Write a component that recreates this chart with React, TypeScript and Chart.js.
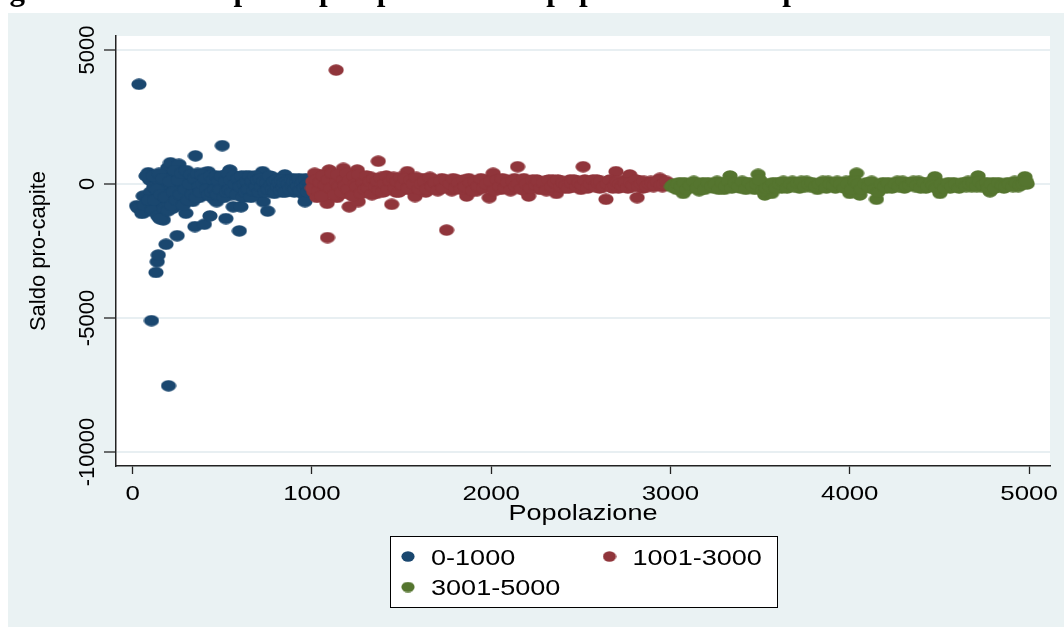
import React, { useEffect, useRef } from 'react';
import { Chart, registerables } from 'chart.js';

Chart.register(...registerables);

const TITLE = 'Figura 10.3: Saldo pro-capite per classe di popolazione nelle province';
const X_TITLE = 'Popolazione';
const Y_TITLE = 'Saldo pro-capite';
const X_TICKS = [0, 1000, 2000, 3000, 4000, 5000];
const Y_TICKS = [-10000, -5000, 0, 5000];
const SERIES_LABELS = ['0-1000', '1001-3000', '3001-5000'];
const SERIES_COLORS = ['#1A476F', '#90353B', '#55752F'];

// [popolazione, saldo pro-capite]
const TOWNS_0_1000: [number, number][] = [
  [35, 3720], [22, -810], [45, -950], [59, -450], [71, -1030], [80, -700], [87, 420], [95, 150],
  [100, -300], [105, -5100], [112, -900], [118, -100], [125, 250], [130, -3300], [137, -2900],
  [143, -2650], [150, -500], [155, 100], [160, -800], [165, -1100], [171, -1340], [178, 350],
  [186, -2250], [190, -200], [195, 600], [200, -7530], [205, -600], [211, 795], [215, -350],
  [220, 50], [225, -900], [232, 300], [240, -150], [248, -1930], [252, -450], [258, 735],
  [262, -700], [270, 200], [278, -100], [285, -500], [290, 100], [297, -1090], [305, -300],
  [312, 250], [320, 340], [328, -150], [335, -650], [340, 50], [347, -1590], [350, 1050],
  [358, -250], [365, 300], [372, -500], [380, 100], [388, -200], [395, 400], [400, -1500],
  [408, -400], [415, 150], [421, 460], [431, -1190], [438, -100], [445, 250], [452, -550],
  [460, 0], [468, -660], [475, 200], [482, -300], [490, 100], [500, 1430], [505, -200],
  [512, 300], [520, -1290], [528, -100], [535, 200], [542, 520], [550, -400], [561, -850],
  [568, 100], [575, -250], [582, 250], [590, 0], [595, -1750], [604, -850], [610, -300],
  [618, 200], [625, -100], [632, 300], [640, -450], [648, 100], [655, -200], [662, 250],
  [670, -350], [678, 50], [685, -150], [692, 200], [700, -400], [708, 100], [715, -250],
  [725, 460], [729, -660], [735, -100], [742, 200], [753, -1010], [760, -300], [768, 150],
  [775, -100], [782, 250], [790, -350], [798, 50], [805, -200], [812, 200], [820, -100],
  [828, 100], [835, -300], [842, 0], [849, 340], [856, -150], [864, 150], [872, -250],
  [880, 50], [888, -100], [895, 200], [902, -300], [910, 0], [918, 100], [925, -200],
  [932, 150], [940, -100], [948, 50], [955, -400], [961, -660], [968, 0], [975, -150],
  [982, 100], [990, -50], [996, -250],
  [30, -900], [52, -1100], [65, -800], [75, 300], [90, -600], [108, -1000], [115, 300],
  [122, -600], [134, -200], [140, -1200], [147, 400], [152, -1300], [158, -400], [168, 200],
  [175, -900], [182, -500], [198, -1000], [208, 100], [218, -800], [228, -300], [236, 500],
  [244, -600], [255, 150], [266, -400], [274, 400], [282, -800], [294, -200], [300, 500],
  [310, -600], [318, 0], [325, 350], [332, -400], [345, 200], [355, -500], [362, 400],
  [370, -100], [378, -300], [385, 350], [392, 0], [404, 200], [412, -200], [425, -400],
  [435, 300], [442, -300], [450, 150], [458, -200], [465, 300], [472, -400], [480, 100],
  [488, -200], [495, 300], [510, -500], [518, 100], [525, -300], [532, 400], [540, -200],
  [548, 150], [556, -300], [565, 300], [572, 0], [580, -400], [588, 200], [600, -100],
  [608, 300], [615, -500], [622, 0], [630, -300], [638, 100], [645, -200], [652, 300],
  [660, -500], [668, 100], [675, -250], [682, 300], [690, -100], [698, 150], [705, -300],
  [712, 200], [720, -100], [732, 100], [740, -300], [748, 50], [756, -200], [764, 300],
  [772, -50], [780, -200], [788, 100], [795, -300], [802, 150], [810, -100], [818, 50],
  [825, -250], [832, 150], [840, -150], [846, 50], [852, -300], [860, 100], [868, 0],
  [876, -200], [884, 150], [892, -50], [898, 100], [906, -200], [914, 50], [922, -100],
  [928, 200], [936, -250], [944, 0], [952, 100], [958, -150], [965, 200], [972, -50],
  [978, -300], [986, 50], [993, -100],
];

const TOWNS_1001_3000: [number, number][] = [
  [1005, 100], [1012, -300], [1020, 200], [1028, -500], [1035, 0], [1042, 350], [1050, -200],
  [1058, 100], [1065, -400], [1072, 250], [1080, -100], [1085, -720], [1087, -2000], [1096, 520],
  [1100, 0], [1108, -300], [1115, 200], [1122, -150], [1130, 300], [1135, 4250], [1140, -500],
  [1148, 100], [1155, -250], [1162, 150], [1170, -50], [1175, 585], [1182, -350], [1190, 200],
  [1198, -100], [1208, -850], [1215, 0], [1222, 250], [1230, -200], [1238, 100], [1245, -400],
  [1253, 520], [1258, -660], [1265, 0], [1272, 200], [1280, -150], [1290, 100], [1300, -300],
  [1310, 150], [1320, -50], [1330, 250], [1340, -200], [1350, 50], [1360, -350], [1370, 850],
  [1380, 100], [1390, -100], [1400, 200], [1410, -250], [1420, 0], [1430, 150], [1445, -760],
  [1450, -100], [1460, 200], [1470, -300], [1480, 50], [1490, -150], [1500, 100], [1515, -200],
  [1532, 460], [1545, 0], [1560, -250], [1575, -470], [1590, 100], [1605, -100], [1620, 200],
  [1635, -300], [1650, 50], [1665, -150], [1680, 150], [1695, -200], [1710, 0], [1725, 200],
  [1740, -100], [1751, -1720], [1765, 100], [1780, -250], [1795, 50], [1810, 150], [1825, -100],
  [1840, 0], [1863, -450], [1875, 200], [1890, -150], [1905, 50], [1920, -250], [1935, 100],
  [1950, -50], [1965, 150], [1989, -510], [2011, 400], [2025, -100], [2040, 100], [2055, -200],
  [2070, 0], [2085, 150], [2100, -150], [2115, 50], [2130, 200], [2147, 645], [2160, -100],
  [2175, 100], [2190, -250], [2209, -450], [2225, 50], [2240, -100], [2255, 150], [2270, -200],
  [2285, 0], [2300, 100], [2315, -150], [2330, 50], [2345, 150], [2364, -350], [2380, 0],
  [2395, 100], [2410, -150], [2425, 50], [2440, 150], [2455, -100], [2470, 0], [2485, 100],
  [2500, -200], [2513, 645], [2530, 50], [2545, -100], [2560, 100], [2575, -50], [2590, 150],
  [2605, -150], [2620, 0], [2640, -570], [2655, 100], [2670, -100], [2685, 50], [2696, 460],
  [2710, -150], [2725, 100], [2740, -50], [2755, 150], [2773, 340], [2785, -100], [2800, 0],
  [2814, -510], [2830, 100], [2845, -150], [2860, 50], [2875, -50], [2890, 100], [2905, -100],
  [2920, 0], [2941, 210], [2955, -100], [2970, 50], [2985, -50], [2995, 0],
  [1003, -150], [1015, 400], [1025, 150], [1038, -250], [1047, 50], [1055, -450], [1062, 300],
  [1075, -50], [1092, 150], [1104, -150], [1112, 400], [1126, -400], [1138, 50], [1145, 350],
  [1152, -100], [1166, -300], [1178, 150], [1186, -50], [1195, 400], [1203, -200], [1212, 150],
  [1226, -450], [1234, 300], [1242, 0], [1250, -100], [1262, 350], [1276, -350], [1285, 50],
  [1295, -200], [1305, 300], [1315, -150], [1325, 100], [1335, -400], [1345, 200], [1355, -100],
  [1365, 100], [1375, -250], [1385, 250], [1395, -300], [1405, 0], [1415, 300], [1425, -200],
  [1438, 100], [1455, 250], [1465, -150], [1475, 100], [1485, -300], [1495, 250], [1505, -50],
  [1520, 200], [1538, -150], [1552, 150], [1568, 0], [1582, 250], [1598, -200], [1612, 0],
  [1628, 100], [1642, -200], [1658, 250], [1672, -100], [1688, 50], [1702, -250], [1718, 100],
  [1732, -150], [1748, 150], [1772, 0], [1788, 200], [1802, -150], [1818, 50], [1832, -200],
  [1848, 150], [1856, -100], [1882, 50], [1898, -250], [1912, 100], [1928, -100], [1942, 200],
  [1958, -150], [1975, 0], [1998, 100], [2018, -250], [2033, 150], [2048, -100], [2062, 200],
  [2078, -150], [2092, 50], [2108, -250], [2122, 100], [2138, -100], [2152, 0], [2168, -200],
  [2182, 200], [2198, 0], [2218, -150], [2232, 150], [2248, -50], [2262, 100], [2278, -150],
  [2292, 50], [2308, -250], [2322, 150], [2338, -100], [2355, 50], [2372, 150], [2388, -100],
  [2402, 50], [2418, -50], [2432, -150], [2448, 50], [2462, 150], [2478, -100], [2492, 50],
  [2508, -50], [2522, 150], [2538, -150], [2552, 0], [2568, 150], [2582, -100], [2598, 50],
  [2612, 100], [2628, -100], [2648, 0], [2662, 150], [2678, -150], [2692, -50], [2703, 100],
  [2718, 0], [2732, -100], [2748, 50], [2762, -150], [2778, 50], [2792, -50], [2808, 150],
  [2822, -100], [2838, 0], [2852, 100], [2868, -100], [2882, 0], [2898, 50], [2912, -50],
  [2928, 100], [2948, -50], [2962, 0], [2978, 100],
];

const TOWNS_3001_5000: [number, number][] = [
  [3005, -100], [3020, 0], [3035, -200], [3050, 50], [3071, -350], [3085, -50], [3100, -150],
  [3120, 0], [3140, -100], [3160, -250], [3180, 50], [3200, -100], [3220, 0], [3240, -150],
  [3260, 100], [3280, -50], [3300, -200], [3315, 0], [3332, 300], [3350, -100], [3370, 0],
  [3390, -150], [3410, 50], [3430, -100], [3450, 0], [3470, -200], [3489, 360], [3505, -100],
  [3526, -410], [3545, 0], [3564, -350], [3580, -50], [3600, 50], [3620, -150], [3640, 0],
  [3660, -100], [3680, 100], [3700, -50], [3720, -150], [3740, 0], [3760, 100], [3780, -100],
  [3800, 0], [3820, -200], [3840, 50], [3860, -100], [3880, 100], [3900, 0], [3920, -150],
  [3940, 50], [3960, -100], [3980, 100], [4000, -350], [4020, 150], [4038, 400], [4056, -410],
  [4075, -100], [4095, 50], [4115, -150], [4130, 0], [4149, -570], [4165, -100], [4185, 50],
  [4205, -150], [4225, 0], [4245, -100], [4265, 100], [4285, -50], [4305, -150], [4325, 50],
  [4345, 0], [4365, -100], [4385, 100], [4405, -50], [4425, -150], [4445, 0], [4475, 270],
  [4490, 50], [4503, -350], [4520, -100], [4540, 0], [4560, -150], [4580, 50], [4600, -100],
  [4620, 0], [4640, -50], [4660, 100], [4680, -100], [4700, 0], [4716, 300], [4735, -100],
  [4755, 0], [4782, -290], [4800, 50], [4820, -100], [4840, 0], [4860, -150], [4880, 50],
  [4900, -50], [4920, 100], [4940, -100], [4960, 50], [4977, 270], [4990, 0],
  [3012, -50], [3028, -150], [3042, 0], [3060, -100], [3078, 50], [3092, -200], [3110, -50],
  [3130, 100], [3150, -150], [3170, 0], [3190, -200], [3210, 50], [3230, -100], [3250, 0],
  [3270, -200], [3290, 50], [3308, -100], [3325, 100], [3342, -150], [3360, 50], [3380, -100],
  [3400, 100], [3420, -200], [3440, 50], [3460, -100], [3480, 0], [3498, 150], [3515, -250],
  [3535, -150], [3555, -100], [3572, 50], [3590, -150], [3610, 0], [3630, 100], [3650, -150],
  [3670, 0], [3690, -100], [3710, 50], [3730, 100], [3750, -100], [3770, 0], [3790, 50],
  [3810, -100], [3830, 0], [3850, 100], [3870, -150], [3890, 0], [3910, -50], [3930, 100],
  [3950, 0], [3970, -150], [3990, 0], [4010, -200], [4030, 100], [4047, 0], [4065, -200],
  [4085, 0], [4105, -100], [4122, 100], [4140, -200], [4158, -300], [4175, 0], [4195, -100],
  [4215, 50], [4235, -150], [4255, 0], [4275, -100], [4295, 100], [4315, -100], [4335, -50],
  [4355, 100], [4375, -50], [4395, -150], [4415, 50], [4435, -100], [4455, 100], [4465, -50],
  [4482, -150], [4510, 0], [4530, -150], [4550, 50], [4570, -100], [4590, 0], [4610, -150],
  [4630, 50], [4650, -100], [4670, 0], [4690, 50], [4708, -100], [4725, 100], [4745, -50],
  [4765, 50], [4772, -150], [4790, 0], [4810, -150], [4830, 50], [4850, -50], [4870, -100],
  [4890, 0], [4910, -100], [4930, 50], [4950, -50], [4968, 0], [4985, 100],
];

const SERIES_DATA = [TOWNS_0_1000, TOWNS_1001_3000, TOWNS_3001_5000];

const STRETCH = 1.23;
const SANS = '"Liberation Sans", Arial, sans-serif';

function makeEllipse(color: string, w: number, h: number): HTMLCanvasElement {
  const c = document.createElement('canvas');
  c.width = w;
  c.height = h;
  const g = c.getContext('2d')!;
  g.fillStyle = color;
  g.beginPath();
  g.ellipse(w / 2, h / 2, w / 2 - 0.4, h / 2 - 0.3, 0, 0, Math.PI * 2);
  g.fill();
  return c;
}

function drawStretched(ctx: CanvasRenderingContext2D, text: string, x: number, y: number, font: string, align: CanvasTextAlign) {
  ctx.save();
  ctx.font = font;
  ctx.textAlign = align;
  ctx.textBaseline = 'alphabetic';
  ctx.translate(x, y);
  ctx.scale(STRETCH, 1);
  ctx.fillText(text, 0, 0);
  ctx.restore();
}

const decorPlugin = {
  id: 'decor',
  beforeDraw(chart: any) {
    const { ctx, chartArea: a, width, height } = chart;
    ctx.save();
    ctx.fillStyle = '#ffffff';
    ctx.fillRect(0, 0, width, height);
    ctx.fillStyle = '#EAF2F3';
    ctx.fillRect(8, 13, width - 8, height - 13);
    ctx.fillStyle = '#ffffff';
    ctx.fillRect(a.left, a.top, a.right - a.left, a.bottom - a.top);
    ctx.fillStyle = '#000000';
    ctx.font = 'bold 31px "Liberation Serif", serif';
    ctx.textAlign = 'left';
    ctx.textBaseline = 'alphabetic';
    ctx.fillText(TITLE, -18, 0);
    ctx.restore();
  },
  afterDraw(chart: any) {
    const { ctx, chartArea: a } = chart;
    const xs = chart.scales.x;
    ctx.save();
    ctx.fillStyle = '#000000';
    xs.ticks.forEach((t: any) => {
      drawStretched(ctx, String(t.value), xs.getPixelForValue(t.value), a.bottom + 33.5, `21px ${SANS}`, 'center');
    });
    const cx = (a.left + a.right) / 2;
    drawStretched(ctx, X_TITLE, cx, a.bottom + 54, `22px ${SANS}`, 'center');

    // legend
    const lw = 387;
    const lh = 71;
    const lx = Math.round(cx - lw / 2) + 0.5;
    const ly = a.bottom + 70.5;
    ctx.fillStyle = '#ffffff';
    ctx.fillRect(lx, ly, lw, lh);
    ctx.strokeStyle = '#000000';
    ctx.lineWidth = 1;
    ctx.strokeRect(lx, ly, lw, lh);
    const cols = [lx + 17.5, lx + 219];
    const rows = [ly + 20, ly + 50.5];
    chart.data.datasets.forEach((ds: any, i: number) => {
      const col = cols[i % 2];
      const row = rows[Math.floor(i / 2)];
      const img = ds.legendMarker as HTMLCanvasElement;
      ctx.drawImage(img, col - img.width / 2, row - img.height / 2);
      ctx.fillStyle = '#000000';
      drawStretched(ctx, ds.label, col + 23, row + 8.2, `22px ${SANS}`, 'left');
    });
    ctx.restore();
  },
};

export default function App() {
  const ref = useRef<HTMLCanvasElement | null>(null);

  useEffect(() => {
    const canvas = ref.current;
    if (!canvas) return;
    const datasets = SERIES_DATA.map((rows, i) => ({
      label: SERIES_LABELS[i],
      data: rows.map(([x, y]) => ({ x, y })),
      pointStyle: makeEllipse(SERIES_COLORS[i], 16, 12),
      legendMarker: makeEllipse(SERIES_COLORS[i], 14, 11),
      pointRadius: 7,
      backgroundColor: SERIES_COLORS[i],
      borderColor: SERIES_COLORS[i],
      order: SERIES_DATA.length - i,
    }));
    const chart = new Chart(canvas, {
      type: 'scatter',
      data: { datasets },
      plugins: [decorPlugin],
      options: {
        responsive: false,
        animation: false,
        events: [],
        layout: { padding: { left: 8, top: 36, right: 14, bottom: 121 } },
        plugins: { legend: { display: false }, tooltip: { enabled: false }, title: { display: false } },
        scales: {
          x: {
            type: 'linear',
            min: -93,
            max: 5117,
            afterBuildTicks: (s: any) => { s.ticks = X_TICKS.map((v) => ({ value: v })); },
            afterFit: (s: any) => { s.height = 40; },
            ticks: { display: false },
            grid: { drawOnChartArea: false, drawTicks: true, tickLength: 8, tickColor: '#222222', tickWidth: 1.3 },
            border: { display: true, color: '#222222', width: 1.5 },
          },
          y: {
            type: 'linear',
            min: -10522,
            max: 5522,
            afterBuildTicks: (s: any) => { s.ticks = Y_TICKS.map((v) => ({ value: v })); },
            afterFit: (s: any) => { s.width = 108; },
            ticks: {
              minRotation: 90,
              maxRotation: 90,
              crossAlign: 'center',
              padding: -18,
              color: '#000000',
              font: { family: 'Liberation Sans', size: 22 },
              callback: (v: any) => String(v),
            },
            grid: { color: '#E8EFF2', lineWidth: 2, drawTicks: true, tickLength: 12, tickColor: '#222222', tickWidth: 1.3 },
            border: { display: true, color: '#222222', width: 1.5 },
            title: {
              display: true,
              text: Y_TITLE,
              color: '#000000',
              font: { family: 'Liberation Sans', size: 22 },
              padding: { top: 18, bottom: 0 },
            },
          },
        },
      },
    } as any);
    return () => chart.destroy();
  }, []);

  return (
    <div style={{ position: 'absolute', left: 0, top: 0, width: 1064, height: 627, overflow: 'hidden', background: '#fff' }}>
      <canvas ref={ref} width={1064} height={627} style={{ display: 'block', width: 1064, height: 627 }} />
    </div>
  );
}
